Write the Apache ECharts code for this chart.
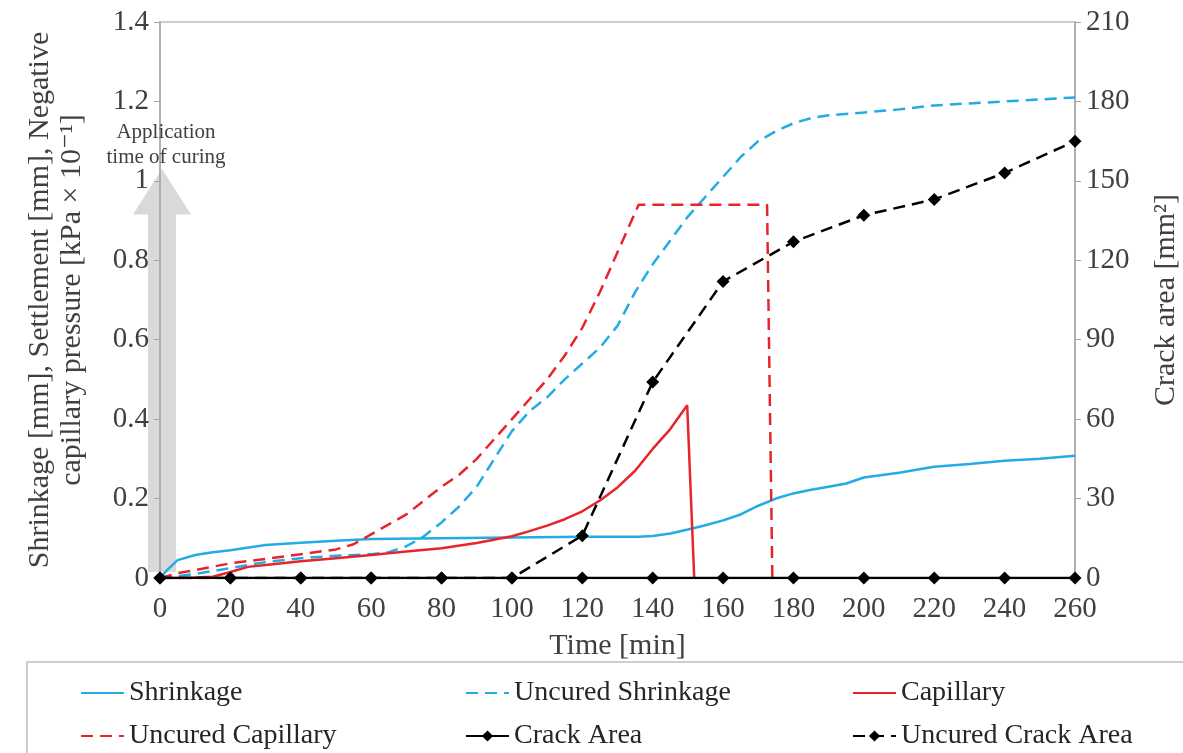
<!DOCTYPE html>
<html>
<head>
<meta charset="utf-8">
<script src="https://cdn.jsdelivr.net/npm/echarts@6/dist/echarts.min.js"></script>
<style>
html,body{margin:0;padding:0;background:#fff;}
#chart{width:1183px;height:753px;}
</style>
</head>
<body>
<div id="chart"></div>
<script>
// ---- data ----
const xTicks = [0,20,40,60,80,100,120,140,160,180,200,220,240,260];

const shrinkTime = [0,2,5,10,15,20,30,40,50,60,80,100,120,136,140,145,150,155,160,165,170,175,180,185,190,195,200,210,220,230,240,250,260];
const shrinkVal  = [0,0.02,0.045,0.058,0.065,0.07,0.083,0.089,0.094,0.098,0.1,0.102,0.104,0.104,0.106,0.112,0.122,0.133,0.145,0.16,0.182,0.2,0.213,0.222,0.23,0.238,0.253,0.265,0.28,0.287,0.295,0.3,0.308];

const uncShrTime = [0,10,20,30,40,50,60,65,70,75,80,85,90,95,100,105,110,115,120,125,130,135,140,145,150,155,160,165,170,175,180,185,190,200,210,220,230,240,250,260];
const uncShrVal  = [0,0.01,0.025,0.04,0.05,0.056,0.06,0.065,0.08,0.105,0.14,0.18,0.23,0.3,0.37,0.42,0.455,0.5,0.54,0.58,0.635,0.72,0.79,0.85,0.91,0.96,1.01,1.06,1.1,1.125,1.145,1.158,1.165,1.172,1.18,1.19,1.195,1.2,1.205,1.21];

const capTime = [0,5,10,15,20,25,30,40,50,60,70,80,90,100,105,110,115,120,125,130,135,140,145,149.8,151.8];
const capVal  = [0,0,0.001,0.003,0.015,0.028,0.033,0.042,0.05,0.058,0.067,0.075,0.088,0.105,0.118,0.132,0.148,0.168,0.195,0.228,0.27,0.325,0.375,0.435,0];

const uncCapTime = [0,5,10,20,30,40,50,55,60,65,70,75,80,85,90,95,100,105,110,115,120,125,130,135,136,172.5,174];
const uncCapVal  = [0,0.012,0.02,0.037,0.048,0.06,0.072,0.085,0.11,0.135,0.16,0.195,0.23,0.26,0.3,0.35,0.4,0.45,0.5,0.56,0.63,0.72,0.82,0.92,0.94,0.94,0];

const crackTime = [0,20,40,60,80,100,120,140,160,180,200,220,240,260];
const crackVal  = [0,0,0,0,0,0,0,0,0,0,0,0,0,0];
const uncCrackVal = [0,0,0,0,0,0,16,74,112,127,137,143,153,165];

// annotation (curing application arrow) in left-axis units
const arrowTop = 1.03, arrowHeadBase = 0.915, arrowBottom = 0.015;

const zip = (a,b) => a.map((v,i)=>[v,b[i]]);

const FONT = '"Liberation Serif","DejaVu Serif",serif';
const BLUE = '#22ace3', RED = '#e8242b', BLACK = '#000000';
const TXT = '#404040';
const DASH = [12,7];

const chart = echarts.init(document.getElementById('chart'));

const legendPos = [
  {name:'Shrinkage', left:80, top:679, sym:false},
  {name:'Uncured Shrinkage', left:465, top:679, sym:false},
  {name:'Capillary', left:852, top:679, sym:false},
  {name:'Uncured Capillary', left:80, top:722, sym:false},
  {name:'Crack Area', left:465, top:722, sym:true},
  {name:'Uncured Crack Area', left:852, top:722, sym:true}
];

const option = {
  backgroundColor:'#fff',
  animation:false,
  grid:{left:160,right:108,top:22,bottom:175,show:true,borderColor:'#bfbfbf',borderWidth:1.5,
        backgroundColor:'transparent',outerBoundsMode:'none',containLabel:false},
  legend: legendPos.map(l=>({
    data:[l.name], left:l.left, top:l.top, itemWidth:43, itemHeight:14, itemGap:0, padding:0,
    selectedMode:false,
    itemStyle: l.sym ? {} : {opacity:0},
    textStyle:{fontFamily:FONT,fontSize:28,color:'#262626'}
  })),
  xAxis:{
    type:'value', min:0, max:260, interval:20,
    name:'Time [min]', nameLocation:'middle', nameGap:53,
    nameTextStyle:{fontFamily:FONT,fontSize:30,color:TXT},
    axisLine:{show:true,lineStyle:{color:'#a6a6a6',width:1.5}},
    axisTick:{show:false},
    axisLabel:{fontFamily:FONT,fontSize:29,color:TXT,margin:17},
    splitLine:{show:false}
  },
  yAxis:[{
    type:'value', min:0, max:1.4, interval:0.2, position:'left',
    name:'Shrinkage [mm], Settlement [mm], Negative\ncapillary pressure [kPa × 10⁻¹]',
    nameLocation:'middle', nameGap:72,
    nameTextStyle:{fontFamily:FONT,fontSize:30,color:TXT,lineHeight:32},
    axisLine:{show:true,lineStyle:{color:'#a6a6a6',width:1.5}},
    axisTick:{show:true,inside:false,length:6,lineStyle:{color:'#a6a6a6'}},
    axisLabel:{fontFamily:FONT,fontSize:29,color:TXT,margin:11},
    splitLine:{show:false}
  },{
    type:'value', min:0, max:210, interval:30, position:'right',
    name:'Crack area [mm²]', nameLocation:'middle', nameGap:76, nameRotate:90,
    nameTextStyle:{fontFamily:FONT,fontSize:30,color:TXT},
    axisLine:{show:true,lineStyle:{color:'#a6a6a6',width:1.5}},
    axisTick:{show:true,inside:false,length:6,lineStyle:{color:'#a6a6a6'}},
    axisLabel:{fontFamily:FONT,fontSize:29,color:TXT,margin:11},
    splitLine:{show:false}
  }],
  series:[
    {name:'Shrinkage', type:'line', yAxisIndex:0, data:zip(shrinkTime,shrinkVal), symbol:'none', smooth:false,
     lineStyle:{color:BLUE,width:2.5}, itemStyle:{color:BLUE}, z:3},
    {name:'Uncured Shrinkage', type:'line', yAxisIndex:0, data:zip(uncShrTime,uncShrVal), symbol:'none',
     lineStyle:{color:BLUE,width:2.5,type:DASH}, itemStyle:{color:BLUE}, z:3},
    {name:'Capillary', type:'line', yAxisIndex:0, data:zip(capTime,capVal), symbol:'none',
     lineStyle:{color:RED,width:2.5}, itemStyle:{color:RED}, z:4},
    {name:'Uncured Capillary', type:'line', yAxisIndex:0, data:zip(uncCapTime,uncCapVal), symbol:'none',
     lineStyle:{color:RED,width:2.5,type:DASH}, itemStyle:{color:RED}, z:4},
    {name:'Crack Area', type:'line', yAxisIndex:1, data:zip(crackTime,crackVal), symbol:'diamond', symbolSize:13,
     lineStyle:{color:BLACK,width:2.5}, itemStyle:{color:BLACK}, z:6},
    {name:'Uncured Crack Area', type:'line', yAxisIndex:1, data:zip(crackTime,uncCrackVal), symbol:'diamond', symbolSize:13,
     lineStyle:{color:BLACK,width:2.5,type:DASH}, itemStyle:{color:BLACK}, z:5}
  ]
};
chart.setOption(option);

// annotation arrow + label, anchored through the axis scales
const px = v => chart.convertToPixel({xAxisIndex:0,yAxisIndex:0}, v);
const pB = px([0,arrowBottom]), pH = px([0,arrowHeadBase]), pT = px([0,arrowTop]);
const cx = pB[0] + 2;
const pLabel = px([0,1.09]);
chart.setOption({
  graphic:[
    {type:'polygon', z:-10, silent:true,
     shape:{points:[[cx-14,pB[1]],[cx+14,pB[1]],[cx+14,pH[1]],[cx+29,pH[1]],[cx,pT[1]],[cx-29,pH[1]],[cx-14,pH[1]]]},
     style:{fill:'#d9d9d9'}},
    {type:'rect', z:-5, silent:true,
     shape:{x:27,y:662,width:1183-27+5,height:120},
     style:{fill:'none',stroke:'#bfbfbf',lineWidth:1.5}},
    {type:'text', z:10, silent:true, x:cx+4, y:pLabel[1],
     style:{text:'Application\ntime of curing', fontFamily:FONT, fontSize:21, lineHeight:25, fill:TXT, align:'center', verticalAlign:'middle'}}
  ]
});
</script>
</body>
</html>
